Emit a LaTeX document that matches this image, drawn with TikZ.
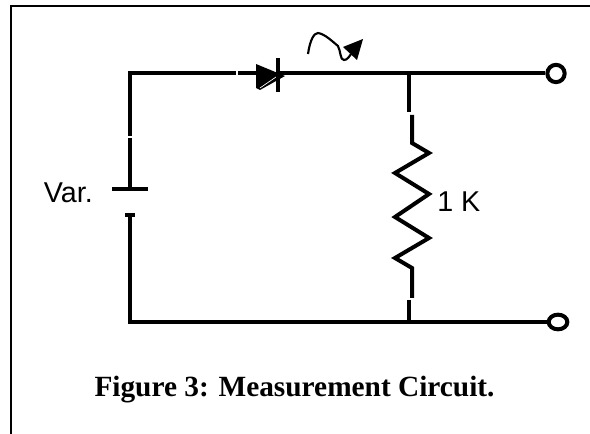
\documentclass[tikz,border=0pt]{standalone}
\usepackage{fontspec}
\setmainfont{Liberation Serif}
\newfontfamily\arialf{Liberation Sans}
\usetikzlibrary{shapes.geometric}
\tikzset{
  wire/.style={line width=3pt,line cap=butt,line join=miter},
  frameline/.style={line width=1.8pt},
  lbl/.style={font=\arialf\fontsize{21.5}{24}\selectfont,inner sep=0pt},
  capt/.style={font=\bfseries\fontsize{22}{24}\selectfont,inner sep=0pt,anchor=base},
  term/.style={draw,line width=3pt,ellipse,fill=white,inner sep=0pt},
}
\begin{document}
\begin{tikzpicture}[x=0.75pt,y=-0.75pt]
\useasboundingbox (0,0) rectangle (590,434);
\draw[frameline] (11,434) -- (11,6) -- (590,6);
% terminals
\node[term,minimum width=13pt,minimum height=13pt] (t1) at (556,73.5) {};
\node[term,minimum width=14pt,minimum height=11pt] (t2) at (558,322) {};
\coordinate (tl) at (130,73.5);
\coordinate (bl) at (130,322);
\coordinate (jt) at (409,73.5);
\coordinate (jb) at (409,322);
% wires
\draw[wire] (130,136) -- (tl) -- (236,73.5);
\draw[wire] (238,73.5) -- (256,73.5);
\draw[wire] (278,73.5) -- (jt) -- (t1.west);
\draw[wire] (130,138) -- (130,189);
\draw[wire] (112,189) -- (148,189);
\draw[wire] (125,215) -- (135,215);
\draw[wire] (130,215) -- (bl) -- (jb) -- (t2.west);
% diode
\fill (256,64) -- (285,76) -- (260,90) -- (256,88) -- cycle;
\draw[white,line width=0.5pt] (260,88) -- (276,77);
\draw[wire] (278,58) -- (278,92);
% current arrow
\draw[line width=1.6pt] (308,54) .. controls (310,40) and (314,33) .. (318,33)
  .. controls (325,34) and (333,42) .. (338,46)
  .. controls (341,52) and (340,60) .. (344,60)
  .. controls (347,60) and (349,57) .. (351,54);
\fill (363,39) -- (357,60) -- (343,47) -- cycle;
% resistor
\draw[wire] (jt) -- (409,112);
\draw[wire] (412,115) -- (412,143) -- (429,153) -- (395,173) -- (429,194) -- (395,217) -- (429,238) -- (395,258) -- (412,268) -- (412,298);
\draw[wire] (409,300) -- (jb);
% labels
\node[lbl,anchor=base east] (var) at (93,203) {Var.};
\node[lbl,anchor=base west] (rv) at (437,212) {1 K};
\node[capt] (cap) at (294.5,397) {Figure 3: Measurement Circuit.};
\end{tikzpicture}
\end{document}
